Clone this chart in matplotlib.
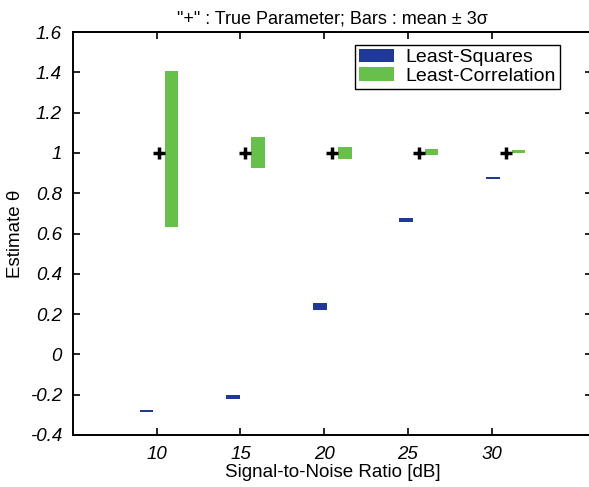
import matplotlib.pyplot as plt
import numpy as np

plt.rcParams['font.family'] = ['Liberation Sans', 'DejaVu Sans']

snr_ticks = [10, 15, 20, 25, 30]
# group centres as drawn in the original (slightly off the tick marks)
group_x = [10.15, 15.3, 20.5, 25.65, 30.85]
true_param = [1, 1, 1, 1, 1]

ls_mean = [-0.28, -0.21, 0.237, 0.667, 0.876]
ls_sigma = [0.0015, 0.0035, 0.0057, 0.0035, 0.0015]
lc_mean = [1.02, 1.001, 1.0, 1.004, 1.006]
lc_sigma = [0.129, 0.0253, 0.0092, 0.0047, 0.0027]

blue = '#1f3a96'
green = '#66c04a'
width = 0.8
offset = 0.75

fig = plt.figure(figsize=(5.89, 4.87), dpi=100)
ax = fig.add_axes([0.124, 0.107, 0.881, 0.827])

x = np.array(group_x)
ls_m, ls_s = np.array(ls_mean), 3 * np.array(ls_sigma)
lc_m, lc_s = np.array(lc_mean), 3 * np.array(lc_sigma)

ax.bar(x - offset, 2 * ls_s, width, bottom=ls_m - ls_s, color=blue, label='Least-Squares')
ax.bar(x + offset, 2 * lc_s, width, bottom=lc_m - lc_s, color=green, label='Least-Correlation')
ax.plot(x, true_param, '+', color='black', markersize=8, markeredgewidth=2.5)

ax.set_xlim(5, 36)
ax.set_ylim(-0.4, 1.6)
ax.set_xticks(snr_ticks)
ax.set_yticks(np.arange(-0.4, 1.61, 0.2))
ax.set_yticklabels(['-0.4', '-0.2', '0', '0.2', '0.4', '0.6', '0.8', '1', '1.2', '1.4', '1.6'])
ax.tick_params(direction='in', top=True, right=True, length=5, width=1.2,
               labelsize=13.5, pad=8)
for lbl in ax.get_xticklabels() + ax.get_yticklabels():
    lbl.set_fontstyle('italic')
for sp in ax.spines.values():
    sp.set_linewidth(1.4)

ax.set_xlabel('Signal-to-Noise Ratio [dB]', fontsize=13.5, labelpad=1)
ax.set_ylabel('Estimate θ', fontsize=13.5, labelpad=4)
ax.set_title('"+" : True Parameter; Bars : mean ± 3σ', fontsize=13, pad=6)

leg = ax.legend(loc='upper right', bbox_to_anchor=(0.938, 0.968), fontsize=14,
                fancybox=False, edgecolor='black', framealpha=1,
                handlelength=1.8, handleheight=0.67, handletextpad=0.6,
                borderpad=0.2, labelspacing=0.05, borderaxespad=0)
leg.get_frame().set_linewidth(1.0)

plt.savefig('out.png', dpi=100)
